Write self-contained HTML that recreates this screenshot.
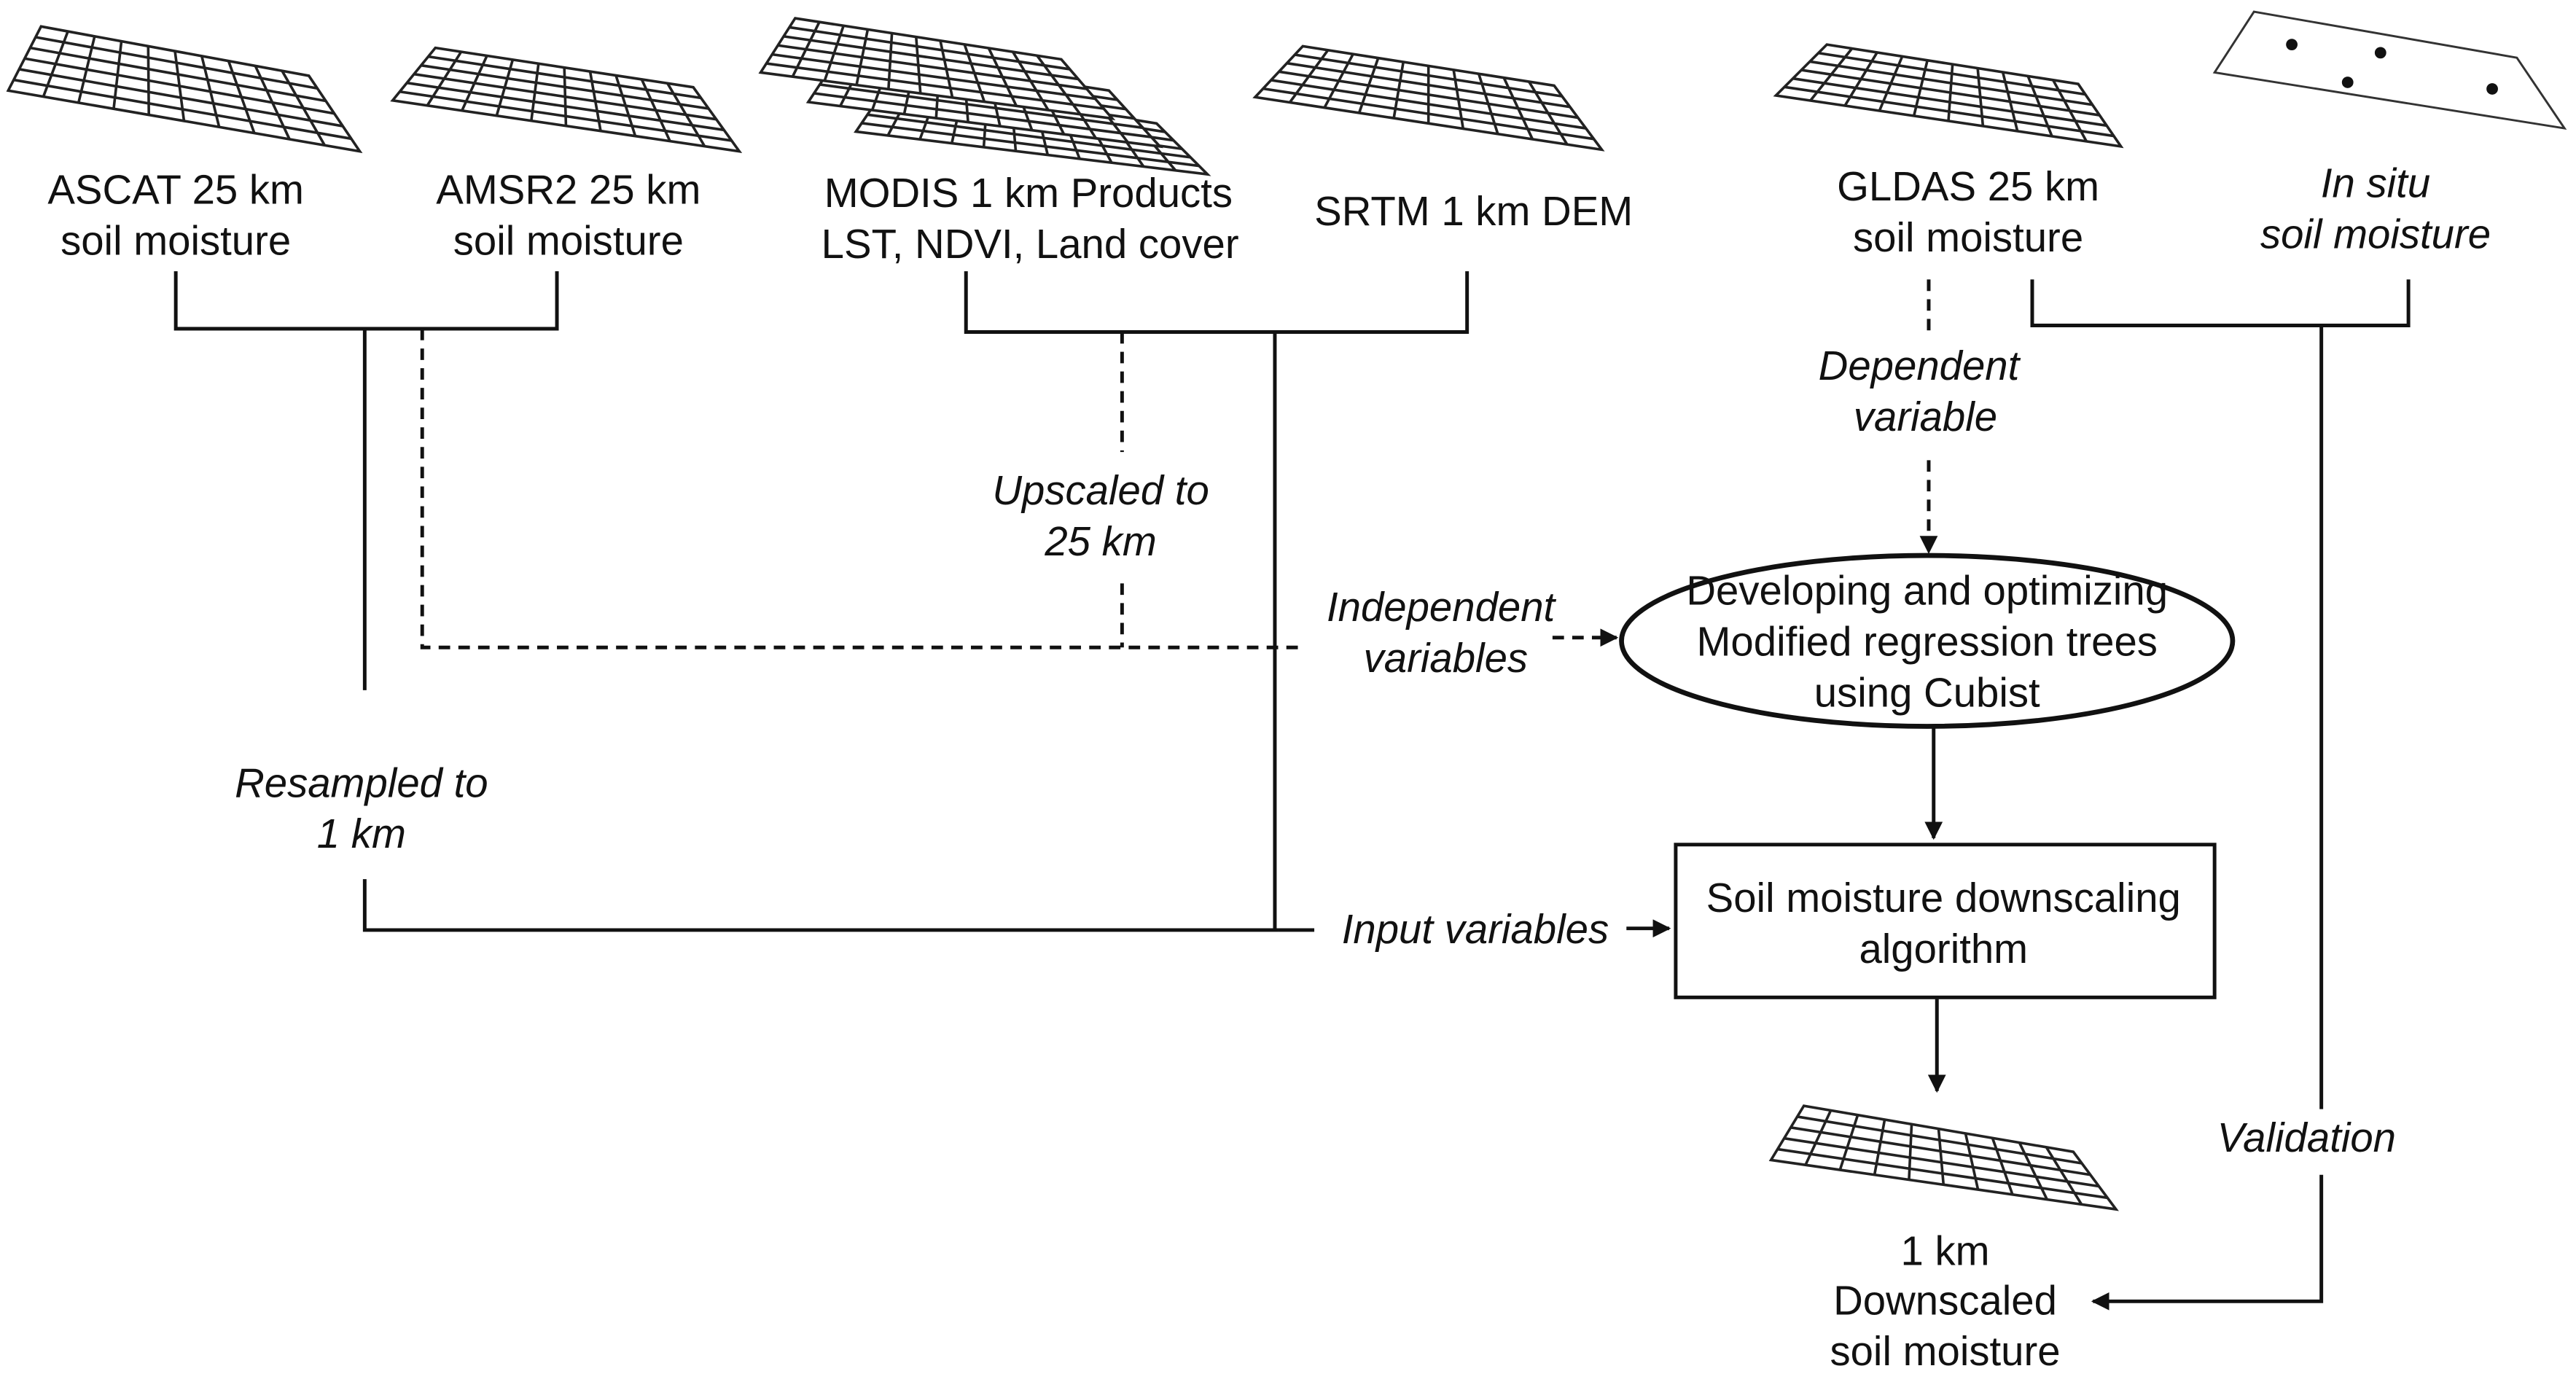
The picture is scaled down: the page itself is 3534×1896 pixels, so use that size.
<!DOCTYPE html>
<html><head><meta charset="utf-8"><style>
html,body{margin:0;padding:0;background:#fff}
svg{display:block}
text{font-family:"Liberation Sans",sans-serif;font-size:25px;fill:#111;text-anchor:middle}
.i{font-style:italic}
.l{stroke:#111;stroke-width:2.2;fill:none}
.d{stroke:#111;stroke-width:2.2;fill:none;stroke-dasharray:7,5}
</style></head><body>
<svg width="3534" height="1896" viewBox="0 0 1568 841" xmlns="http://www.w3.org/2000/svg">
<defs>
<marker id="a" viewBox="0 0 10 10" refX="9" refY="5" markerWidth="5" markerHeight="5" orient="auto"><path d="M0,0L10,5L0,10z" fill="#111"/></marker>
</defs>
<g id="grids" stroke="#222" stroke-width="1.6" fill="#fff"></g>

<text x="107" y="124">ASCAT 25 km</text>
<text x="107" y="155">soil moisture</text>
<text x="346" y="124">AMSR2  25 km</text>
<text x="346" y="155">soil moisture</text>
<text x="626" y="126">MODIS 1 km Products</text>
<text x="627" y="157">LST,  NDVI, Land cover</text>
<text x="897" y="137">SRTM 1 km DEM</text>
<text x="1198" y="122">GLDAS 25 km</text>
<text x="1198" y="153">soil moisture</text>
<text class="i" x="1446" y="120">In situ</text>
<text class="i" x="1446" y="151">soil moisture</text>

<path class="l" d="M107,165V200H339V165"/>
<path class="l" d="M222,200V420M222,535V566H778"/>
<path class="l" d="M588,165V202H893V165M776,202V566"/>
<path class="l" d="M778,566H800"/>
<path class="l" d="M990,565H1016" marker-end="url(#a)"/>
<path class="l" d="M1237,170V198H1466V170M1413,198V675M1413,715V792H1274" marker-end="url(#a)"/>
<path class="l" d="M1177,443V510" marker-end="url(#a)"/>
<path class="l" d="M1179,608V664" marker-end="url(#a)"/>

<path class="d" d="M257,200V394H790"/>
<path class="d" d="M683,202V275M683,355V394"/>
<path class="d" d="M945,388H984" marker-end="url(#a)"/>
<path class="d" d="M1174,170V205M1174,280V336" marker-end="url(#a)"/>

<text class="i" x="220" y="485">Resampled to</text>
<text class="i" x="220" y="516">1 km</text>
<text class="i" x="670" y="307">Upscaled to</text>
<text class="i" x="670" y="338">25 km</text>
<text class="i" x="877" y="378">Independent</text>
<text class="i" x="880" y="409">variables</text>
<text class="i" x="1168" y="231">Dependent</text>
<text class="i" x="1172" y="262">variable</text>
<text class="i" x="898" y="574">Input variables</text>
<text class="i" x="1404" y="701">Validation</text>

<ellipse cx="1173" cy="390" rx="186" ry="52" fill="#fff" stroke="#111" stroke-width="3"/>
<text x="1173" y="368">Developing and optimizing</text>
<text x="1173" y="399">Modified regression trees</text>
<text x="1173" y="430">using Cubist</text>

<rect x="1020" y="514" width="328" height="93" fill="#fff" stroke="#111" stroke-width="2.2"/>
<text x="1183" y="555">Soil moisture downscaling</text>
<text x="1183" y="586">algorithm</text>

<text x="1184" y="770">1 km</text>
<text x="1184" y="800">Downscaled</text>
<text x="1184" y="831">soil moisture</text>

<path d="M1372,7L1532,35L1561,78L1348,44Z" fill="#fff" stroke="#333" stroke-width="1.3"/>
<circle cx="1395" cy="27" r="3.5" fill="#111"/>
<circle cx="1449" cy="32" r="3.5" fill="#111"/>
<circle cx="1429" cy="50" r="3.5" fill="#111"/>
<circle cx="1517" cy="54" r="3.5" fill="#111"/>
</svg>
<script>
(function(){
var g=document.getElementById('grids');var ns='http://www.w3.org/2000/svg';
function L(a,b,t){return [a[0]+(b[0]-a[0])*t,a[1]+(b[1]-a[1])*t];}
function grid(tl,tr,br,bl,nx,ny){
 var p=document.createElementNS(ns,'path');
 p.setAttribute('d','M'+tl+'L'+tr+'L'+br+'L'+bl+'Z');g.appendChild(p);
 var d='';
 for(var i=1;i<nx;i++){var t=i/nx,a=L(tl,tr,t),b=L(bl,br,t);d+='M'+a+'L'+b;}
 for(var j=1;j<ny;j++){var t=j/ny,a=L(tl,bl,t),b=L(tr,br,t);d+='M'+a+'L'+b;}
 var q=document.createElementNS(ns,'path');q.setAttribute('d',d);q.setAttribute('fill','none');g.appendChild(q);
}
grid([25,16],[188,46],[219,92],[5,55],10,6);
grid([265,29],[422,53],[450,92],[239,61],10,6);
grid([542,49],[704,75],[735,106],[521,80],11,6);
grid([513,30],[675,55],[706,89],[492,62],11,6);
grid([484,11],[646,36],[677,72],[463,44],11,6);
grid([793,28],[946,52],[975,91],[764,59],10,6);
grid([1112,27],[1265,51],[1291,89],[1081,58],10,6);
grid([1098,673],[1262,701],[1288,736],[1078,706],10,5);
})();
</script>
</body></html>
